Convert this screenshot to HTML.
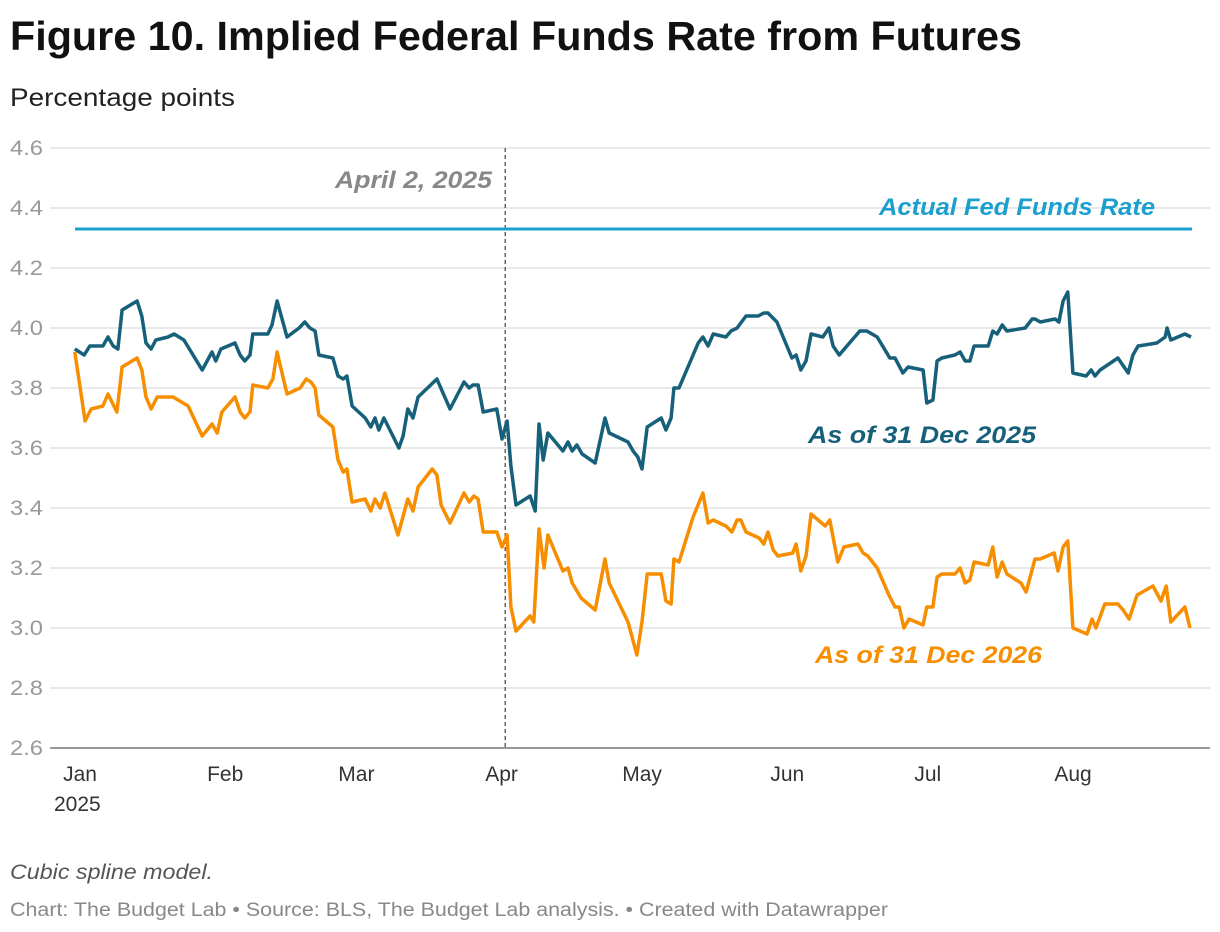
<!DOCTYPE html>
<html><head><meta charset="utf-8"><style>
body{margin:0;background:#fff;width:1220px;height:932px;overflow:hidden;font-family:"Liberation Sans",sans-serif}
svg{display:block}
</style></head><body>
<svg id="chart" width="1220" height="932" xmlns="http://www.w3.org/2000/svg">
<text x="10" y="50" font-size="41" font-weight="bold" fill="#111" textLength="1012" lengthAdjust="spacingAndGlyphs">Figure 10. Implied Federal Funds Rate from Futures</text>
<text x="10" y="106" font-size="25" fill="#222" textLength="225" lengthAdjust="spacingAndGlyphs">Percentage points</text>
<g id="grid"></g>
<g id="series"></g>
<text x="10" y="879" font-size="21" font-style="italic" fill="#555" textLength="203" lengthAdjust="spacingAndGlyphs">Cubic spline model.</text>
<text x="10" y="916" font-size="19" fill="#888" textLength="878" lengthAdjust="spacingAndGlyphs">Chart: The Budget Lab • Source: BLS, The Budget Lab analysis. • Created with Datawrapper</text>
</svg>
<script>
const yTicks=[2.6,2.8,3.0,3.2,3.4,3.6,3.8,4.0,4.2,4.4,4.6];
const monthLabels=["Jan","Feb","Mar","Apr","May","Jun","Jul","Aug"];
const monthDays=[0,31,59,90,120,151,181,212];
const actualRate=4.33;
const eventDay=91;
const darkDays=[-0.9,1.1,2.3,5.1,6.2,7.3,8.3,9.2,12.4,13.4,14.3,15.4,16.4,19.0,20.3,22.4,26.3,28.4,29.2,30.3,33.3,34.4,35.4,36.5,37.1,40.3,41.2,42.3,44.4,47.0,48.2,49.3,50.4,51.2,54.2,55.3,56.4,57.2,58.3,61.1,62.3,63.2,64.0,65.1,68.3,69.2,70.2,71.3,72.4,76.4,79.2,82.2,83.3,84.1,85.2,86.3,89.2,90.3,91.4,92.2,93.3,96.3,97.4,98.2,99.1,100.1,103.3,104.4,105.3,106.3,107.4,110.2,112.3,113.2,117.2,118.3,119.3,120.2,121.3,124.3,125.3,126.4,127.0,128.1,132.2,133.2,134.3,135.4,138.1,139.2,140.5,142.4,145.0,146.2,147.1,149.0,152.2,153.1,154.1,155.2,156.3,158.8,160.1,161.0,162.3,166.7,168.2,170.4,173.1,174.2,175.9,177.0,180.2,181.0,182.3,183.2,184.2,187.0,188.1,189.2,190.2,191.1,194.1,195.1,196.0,197.1,198.1,202.0,203.5,204.1,205.2,208.4,209.2,210.1,211.1,212.2,215.0,216.1,216.9,218.0,221.8,224.0,225.0,226.1,230.1,231.0,231.9,232.3,233.1,236.1,237.4];
const darkVals=[3.93,3.91,3.94,3.94,3.97,3.94,3.93,4.06,4.09,4.04,3.95,3.93,3.96,3.97,3.98,3.96,3.86,3.92,3.89,3.93,3.95,3.91,3.89,3.91,3.98,3.98,4.01,4.09,3.97,4.00,4.02,4.00,3.99,3.91,3.90,3.84,3.83,3.84,3.74,3.70,3.67,3.70,3.66,3.70,3.60,3.64,3.73,3.70,3.77,3.83,3.73,3.82,3.80,3.81,3.81,3.72,3.73,3.63,3.69,3.54,3.41,3.44,3.39,3.68,3.56,3.65,3.59,3.62,3.59,3.61,3.58,3.55,3.70,3.65,3.62,3.59,3.57,3.53,3.67,3.70,3.66,3.70,3.80,3.80,3.95,3.97,3.94,3.98,3.97,3.99,4.00,4.04,4.04,4.05,4.05,4.02,3.90,3.91,3.86,3.89,3.98,3.97,4.00,3.94,3.91,3.99,3.99,3.97,3.90,3.90,3.85,3.87,3.86,3.75,3.76,3.89,3.90,3.91,3.92,3.89,3.89,3.94,3.94,3.99,3.98,4.01,3.99,4.00,4.03,4.03,4.02,4.03,4.02,4.09,4.12,3.85,3.84,3.86,3.84,3.86,3.90,3.85,3.91,3.94,3.95,3.96,3.97,4.00,3.96,3.98,3.97];
const orangeDays=[-0.9,1.3,2.6,5.1,6.2,8.1,9.2,12.4,13.4,14.3,15.4,16.7,20.1,23.3,26.3,28.4,29.5,30.5,33.3,34.4,35.4,36.5,37.1,40.3,41.4,42.3,44.4,47.2,48.5,49.5,50.4,51.2,54.2,55.3,56.4,57.2,58.3,61.1,62.3,63.2,64.3,65.3,68.1,70.2,71.3,72.4,75.4,76.4,77.3,79.2,82.2,83.3,84.3,85.2,86.3,89.2,90.3,91.4,92.2,93.3,96.3,97.1,98.2,99.3,100.1,103.3,104.4,105.3,107.2,110.2,112.3,113.2,117.2,119.1,120.2,121.3,124.3,125.3,126.4,127.0,128.1,131.1,131.9,133.2,134.3,135.4,138.1,139.4,140.5,141.3,142.4,145.2,146.2,147.1,148.2,149.2,152.4,153.1,154.1,155.2,156.3,159.3,160.3,162.0,163.3,166.3,167.4,168.4,170.4,172.9,174.2,175.1,176.1,177.2,180.2,181.0,182.3,183.2,184.2,187.0,188.1,189.2,190.2,191.1,194.1,195.1,196.0,197.1,198.1,201.1,202.2,204.1,205.2,208.2,209.0,210.1,211.1,212.2,215.2,216.3,217.1,219.0,221.8,222.9,224.2,225.9,229.3,231.0,232.1,233.1,236.1,237.2];
const orangeVals=[3.92,3.69,3.73,3.74,3.78,3.72,3.87,3.90,3.86,3.77,3.73,3.77,3.77,3.74,3.64,3.68,3.65,3.72,3.77,3.72,3.70,3.72,3.81,3.80,3.83,3.92,3.78,3.80,3.83,3.82,3.80,3.71,3.67,3.56,3.52,3.53,3.42,3.43,3.39,3.43,3.40,3.45,3.31,3.43,3.39,3.47,3.53,3.51,3.41,3.35,3.45,3.42,3.44,3.43,3.32,3.32,3.27,3.31,3.07,2.99,3.04,3.02,3.33,3.20,3.31,3.19,3.20,3.15,3.10,3.06,3.23,3.15,3.02,2.91,3.02,3.18,3.18,3.09,3.08,3.23,3.22,3.37,3.40,3.45,3.35,3.36,3.34,3.32,3.36,3.36,3.32,3.30,3.28,3.32,3.26,3.24,3.25,3.28,3.19,3.24,3.38,3.34,3.36,3.22,3.27,3.28,3.25,3.24,3.20,3.11,3.07,3.07,3.00,3.03,3.01,3.07,3.07,3.17,3.18,3.18,3.20,3.15,3.16,3.22,3.21,3.27,3.17,3.22,3.18,3.15,3.12,3.23,3.23,3.25,3.19,3.27,3.29,3.00,2.98,3.03,3.00,3.08,3.08,3.06,3.03,3.11,3.14,3.09,3.14,3.02,3.07,3.00];

const NS="http://www.w3.org/2000/svg";
const xS=d=>79+d*4.684;
const yS=v=>148+(4.6-v)*300;
function mk(tag,attrs,parent,text){const e=document.createElementNS(NS,tag);for(const k in attrs)e.setAttribute(k,attrs[k]);if(text!==undefined)e.textContent=text;parent.appendChild(e);return e;}
const grid=document.getElementById('grid');
const ser=document.getElementById('series');
yTicks.forEach(t=>{
  const l=mk('line',{x1:50,x2:1210,y1:yS(t),y2:yS(t),stroke:t===2.6?'#333':'#e2e2e2','stroke-width':t===2.6?1:1.5},grid);
  
  
  const tx=mk('text',{x:10,y:yS(t)+7,'font-size':21,fill:'#999',textLength:33,lengthAdjust:'spacingAndGlyphs'},grid,t.toFixed(1));
  
  
});
monthLabels.forEach((m,i)=>{
  const tx=mk('text',{x:xS(monthDays[i])+1,y:781,'font-size':21,fill:'#333','text-anchor':'middle'},grid,m);
  
  
});
const yr=mk('text',{x:54,y:811,'font-size':21,fill:'#333'},grid,'2025');


const ev=mk('line',{x1:xS(eventDay),x2:xS(eventDay),y1:148,y2:748,stroke:'#666','stroke-width':1.5,'stroke-dasharray':'4,3'},ser);


const evt=mk('text',{x:335,y:188,'font-size':24,'font-weight':'bold','font-style':'italic',fill:'#888',textLength:157,lengthAdjust:'spacingAndGlyphs'},ser,'April 2, 2025');


const ar=mk('line',{x1:75,x2:1192,y1:yS(actualRate),y2:yS(actualRate),stroke:'#1a9fcf','stroke-width':3},ser);


const art=mk('text',{x:879,y:215,'font-size':24,'font-weight':'bold','font-style':'italic',fill:'#1a9fcf',textLength:276,lengthAdjust:'spacingAndGlyphs'},ser,'Actual Fed Funds Rate');


function path(days,vals){return days.map((d,i)=>(i?'L':'M')+xS(d).toFixed(1)+','+yS(vals[i]).toFixed(1)).join('');}
const p1=mk('path',{d:path(darkDays,darkVals),fill:'none',stroke:'#17607a','stroke-width':3.5,'stroke-linejoin':'round'},ser);


const p2=mk('path',{d:path(orangeDays,orangeVals),fill:'none',stroke:'#f68e00','stroke-width':3.5,'stroke-linejoin':'round'},ser);


const l1=mk('text',{x:808,y:443,'font-size':24,'font-weight':'bold','font-style':'italic',fill:'#17607a',textLength:228,lengthAdjust:'spacingAndGlyphs'},ser,'As of 31 Dec 2025');


const l2=mk('text',{x:815,y:663,'font-size':24,'font-weight':'bold','font-style':'italic',fill:'#f68e00',textLength:227,lengthAdjust:'spacingAndGlyphs'},ser,'As of 31 Dec 2026');


</script>
</body></html>
